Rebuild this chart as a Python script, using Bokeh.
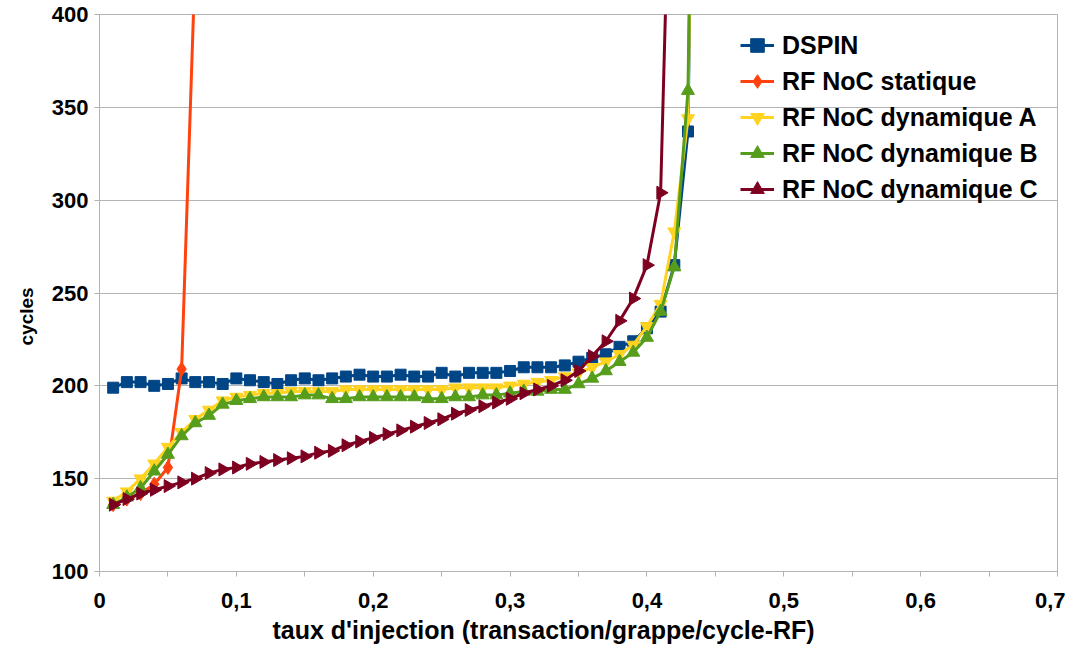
import math
from bokeh.plotting import figure
from bokeh.models import Range1d, FixedTicker, CustomJSTickFormatter, Legend, LegendItem, Title
from bokeh.embed import file_html
from bokeh.resources import INLINE

x_dspin = [0.01, 0.02, 0.03, 0.04, 0.05, 0.06, 0.07, 0.08, 0.09, 0.10,
           0.11, 0.12, 0.13, 0.14, 0.15, 0.16, 0.17, 0.18, 0.19, 0.20,
           0.21, 0.22, 0.23, 0.24, 0.25, 0.26, 0.27, 0.28, 0.29, 0.30,
           0.31, 0.32, 0.33, 0.34, 0.35, 0.36, 0.37, 0.38, 0.39, 0.40,
           0.41, 0.42, 0.43, 0.44]
dspin = [199, 202, 202, 200, 201, 204, 202, 202, 201, 204,
         203, 202, 201, 203, 204, 203, 204, 205, 206, 205,
         205, 206, 205, 205, 207, 205, 207, 207, 207, 208,
         210, 210, 210, 211, 213, 215, 217, 221, 224, 231,
         240, 265, 337, 900]

x_statique = [0.01, 0.02, 0.03, 0.04, 0.05, 0.06, 0.07]
statique = [136, 139, 142, 147, 156, 209, 430]

x_dyn_a = x_dspin
dyn_a = [138, 143, 150, 158, 167, 175, 182, 187, 192, 194,
         195, 196, 196, 197, 197, 197, 197, 198, 198, 198,
         198, 198, 198, 198, 198, 199, 199, 199, 199, 200,
         201, 202, 203, 205, 207, 210, 213, 217, 222, 232,
         244, 283, 344, 900]

x_dyn_b = x_dspin
dyn_b = [136, 140, 145, 154, 163, 173, 180, 184, 190, 192,
         193, 194, 194, 194, 195, 195, 193, 193, 194, 194,
         194, 194, 194, 193, 193, 194, 194, 195, 195, 196,
         197, 197, 198, 198, 201, 204, 208, 213, 218, 226,
         240, 264, 359, 900]

x_dyn_c = [0.01, 0.02, 0.03, 0.04, 0.05, 0.06, 0.07, 0.08, 0.09, 0.10,
           0.11, 0.12, 0.13, 0.14, 0.15, 0.16, 0.17, 0.18, 0.19, 0.20,
           0.21, 0.22, 0.23, 0.24, 0.25, 0.26, 0.27, 0.28, 0.29, 0.30,
           0.31, 0.32, 0.33, 0.34, 0.35, 0.36, 0.37, 0.38, 0.39, 0.40,
           0.41, 0.42]
dyn_c = [136, 139, 142, 144, 146, 148, 150, 153, 155, 156,
         158, 159, 160, 161, 162, 164, 165, 168, 170, 172,
         174, 176, 178, 180, 182, 185, 187, 189, 191, 193,
         196, 198, 200, 203, 208, 216, 224, 235, 247, 265,
         304, 580]

series_names = ["DSPIN", "RF NoC statique", "RF NoC dynamique A",
                "RF NoC dynamique B", "RF NoC dynamique C"]
x_ticks = [0, 0.1, 0.2, 0.3, 0.4, 0.5, 0.6, 0.7]
x_minor_ticks = [0.05, 0.15, 0.25, 0.35, 0.45, 0.55, 0.65]
y_ticks = [100, 150, 200, 250, 300, 350, 400]
x_title = "taux d'injection (transaction/grappe/cycle-RF)"
y_title = "cycles"

FONT = "Liberation Sans"
GRID = "#b3b3b3"

p = figure(width=1065, height=644, output_backend="svg", toolbar_location=None,
           x_range=Range1d(0, 0.7), y_range=Range1d(100, 400),
           min_border_left=99, min_border_right=8, min_border_top=14, min_border_bottom=73,
           frame_width=958, frame_height=557)
p.outline_line_color = GRID
p.outline_line_width = 1
p.background_fill_color = "white"
p.border_fill_color = "white"

p.xaxis.ticker = FixedTicker(ticks=x_ticks, minor_ticks=x_minor_ticks)
p.yaxis.ticker = FixedTicker(ticks=y_ticks)
p.xaxis.formatter = CustomJSTickFormatter(code="""
    if (Math.abs(tick) < 1e-9) { return "0"; }
    return tick.toFixed(1).replace('.', ',');
""")
p.xgrid.grid_line_color = None
p.ygrid.grid_line_color = GRID
p.ygrid.grid_line_width = 1

for ax in (p.xaxis, p.yaxis):
    ax.axis_line_color = GRID
    ax.major_tick_line_color = GRID
    ax.minor_tick_line_color = GRID
    ax.major_tick_in = 0
    ax.major_tick_out = 5
    ax.minor_tick_in = 0
    ax.minor_tick_out = 5
    ax.major_label_text_font = FONT
    ax.major_label_text_font_style = "bold"
    ax.major_label_text_font_size = "22px"
    ax.major_label_text_color = "black"
p.yaxis.minor_tick_out = 0
p.xaxis.major_label_standoff = 16
p.yaxis.major_label_standoff = 6

xt = Title(text=x_title, align="left", offset=173, standoff=7,
           text_font=FONT, text_font_style="bold", text_font_size="25px",
           text_color="black")
p.add_layout(xt, "below")
yt = Title(text=y_title, align="left", offset=226, standoff=20, vertical_align="top",
           text_font=FONT, text_font_style="bold", text_font_size="19px",
           text_color="black")
p.add_layout(yt, "left")

colors = ["#004586", "#ff420e", "#ffd320", "#579d1c", "#7e0021"]
markers = ["square", "diamond", "inverted_triangle", "triangle", "triangle"]
angles = [0, 0, 0, 0, -math.pi / 2]
sizes = [11, 14, 13, 13, 13]
xs = [x_dspin, x_statique, x_dyn_a, x_dyn_b, x_dyn_c]
ys = [dspin, statique, dyn_a, dyn_b, dyn_c]

items = []
for name, c, m, a, s, xv, yv in zip(series_names, colors, markers, angles, sizes, xs, ys):
    lr = p.line(xv, yv, line_color=c, line_width=3)
    sr = p.scatter(xv, yv, marker=m, angle=a, size=s, fill_color=c, line_color=c)
    items.append(LegendItem(label=name, renderers=[lr, sr]))

legend = Legend(items=items, location=(641, 364))
legend.background_fill_alpha = 0
legend.border_line_color = None
legend.label_text_font = FONT
legend.label_text_font_style = "bold"
legend.label_text_font_size = "25px"
legend.label_text_color = "black"
legend.glyph_width = 34
legend.glyph_height = 36
legend.label_height = 36
legend.spacing = 0
legend.padding = 0
legend.margin = 0
legend.label_standoff = 8
p.add_layout(legend)

open("out.html", "w").write(file_html(p, INLINE))
